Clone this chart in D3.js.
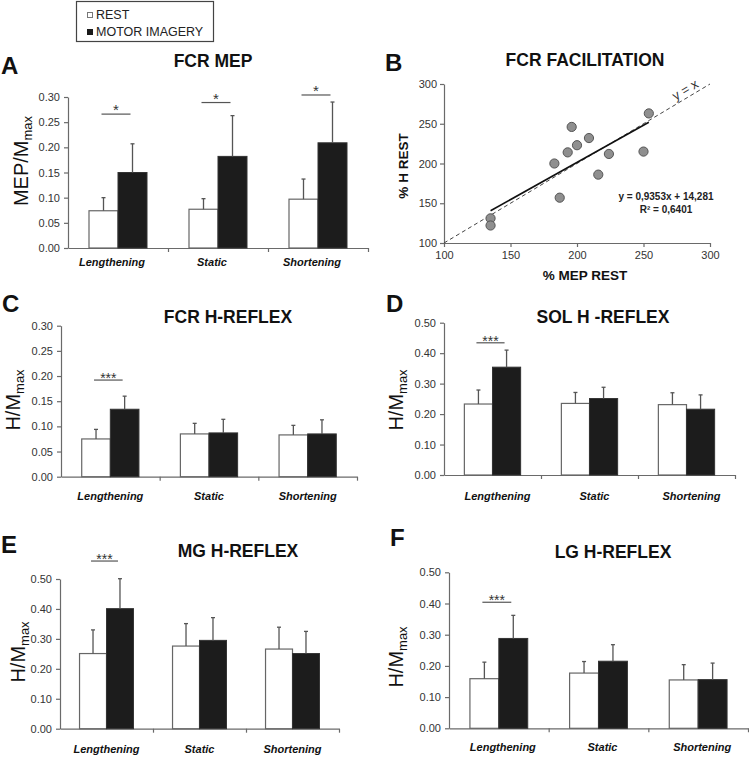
<!DOCTYPE html>
<html>
<head>
<meta charset="utf-8">
<script src="https://cdn.jsdelivr.net/npm/d3@7"></script>
<style>
  body { margin: 0; background: #fff; }
  svg { font-family: "Liberation Sans", Arial, sans-serif; }
</style>
</head>
<body>
<div id="chart"></div>
<script>
// ---- data ----
var categories = ["Lengthening", "Static", "Shortening"];
var seriesNames = ["REST", "MOTOR IMAGERY"];

var ratioTicks30 = [0, 0.05, 0.10, 0.15, 0.20, 0.25, 0.30];
var ratioTicks50 = [0, 0.10, 0.20, 0.30, 0.40, 0.50];
var pctTicks = [100, 150, 200, 250, 300];

// A - FCR MEP
var fcrMepRest = [0.074, 0.077, 0.097];
var fcrMepRestSd = [0.026, 0.021, 0.040];
var fcrMepMi = [0.150, 0.182, 0.209];
var fcrMepMiSd = [0.057, 0.081, 0.081];
var fcrMepSigAt = [0.266, 0.289, 0.304];

// C - FCR H-reflex
var fcrHRest = [0.075, 0.085, 0.083];
var fcrHRestSd = [0.019, 0.021, 0.019];
var fcrHMi = [0.134, 0.087, 0.085];
var fcrHMiSd = [0.026, 0.027, 0.028];
var fcrHSigAt = [0.192, null, null];

// D - SOL H-reflex
var solHRest = [0.233, 0.235, 0.231];
var solHRestSd = [0.046, 0.036, 0.039];
var solHMi = [0.354, 0.251, 0.216];
var solHMiSd = [0.056, 0.037, 0.047];
var solHSigAt = [0.434, null, null];

// E - MG H-reflex
var mgHRest = [0.251, 0.276, 0.266];
var mgHRestSd = [0.079, 0.075, 0.073];
var mgHMi = [0.401, 0.295, 0.251];
var mgHMiSd = [0.100, 0.076, 0.074];
var mgHSigAt = [0.560, null, null];

// F - LG H-reflex
var lgHRest = [0.159, 0.177, 0.155];
var lgHRestSd = [0.053, 0.037, 0.049];
var lgHMi = [0.288, 0.215, 0.156];
var lgHMiSd = [0.074, 0.053, 0.053];
var lgHSigAt = [0.404, null, null];

// B - FCR facilitation scatter
var mepRestPct = [135, 135, 183, 187, 193, 196, 200, 209, 216, 224, 250, 254];
var hRestPct = [131, 122, 200, 157, 214, 246, 223, 232, 186, 212, 215, 263];
var fitSlope = 0.9353;
var fitIntercept = 14.281;

// ---- drawing ----
var width = 749, height = 759;
var axisColor = "#6a6a6a";
var tickTextColor = "#333";

var svg = d3.select("#chart").append("svg")
    .attr("width", width)
    .attr("height", height);

// legend
var legend = svg.append("g");
legend.append("rect")
    .attr("x", 76.5).attr("y", 1.5)
    .attr("width", 137).attr("height", 40)
    .attr("fill", "none").attr("stroke", "#444").attr("stroke-width", 1.2);
seriesNames.forEach(function (name, i) {
    legend.append("rect")
        .attr("x", 87.5).attr("y", 12.5 + i * 17)
        .attr("width", 5).attr("height", 5)
        .attr("fill", i == 0 ? "#fff" : "#1a1a1a")
        .attr("stroke", i == 0 ? "#777" : "#1a1a1a");
    legend.append("text")
        .attr("x", 96).attr("y", 19 + i * 17)
        .attr("font-size", 12.5).attr("fill", "#222")
        .text(name);
});

function panelLetter(letter, x, y) {
    svg.append("text")
        .attr("x", x).attr("y", y)
        .attr("font-size", 24).attr("font-weight", "bold")
        .attr("fill", "#111")
        .text(letter);
}

function panelTitle(title, x, y) {
    svg.append("text")
        .attr("x", x).attr("y", y)
        .attr("text-anchor", "middle")
        .attr("font-size", 17.5).attr("font-weight", "bold")
        .attr("fill", "#111")
        .text(title);
}

function ratioLabel(main, x, y) {
    var t = svg.append("text")
        .attr("transform", "translate(" + x + "," + y + ") rotate(-90)")
        .attr("text-anchor", "middle")
        .attr("font-size", 20).attr("fill", "#111");
    t.append("tspan").text(main);
    t.append("tspan").attr("font-size", 13).attr("dy", 4).text("max");
}

function styleAxis(g) {
    g.select(".domain").attr("stroke", axisColor).attr("stroke-width", 1.2);
    g.selectAll(".tick line").attr("stroke", axisColor).attr("stroke-width", 1.2);
    g.selectAll(".tick text").attr("fill", tickTextColor).attr("font-size", 11)
        .attr("font-family", "Liberation Sans, Arial, sans-serif");
}

function barPanel(o) {
    var x = d3.scaleBand().domain(categories).range([o.left, o.right]);
    var y = d3.scaleLinear().domain([0, d3.max(o.ticks)]).range([o.bottom, o.top]);
    var bw = x.bandwidth() * 0.29;

    // y axis
    var ya = svg.append("g")
        .attr("transform", "translate(" + o.left + ",0)")
        .call(d3.axisLeft(y).tickValues(o.ticks).tickFormat(d3.format(".2f"))
            .tickSize(4).tickSizeOuter(0).tickPadding(4));
    styleAxis(ya);

    // x axis with ticks at category boundaries
    var xi = d3.scaleLinear().domain([0, categories.length]).range([o.left, o.right]);
    var xa = svg.append("g")
        .attr("transform", "translate(0," + o.bottom + ")")
        .call(d3.axisBottom(xi).tickValues([1, 2, 3]).tickFormat("")
            .tickSize(4).tickSizeOuter(0));
    styleAxis(xa);

    var rows = categories.map(function (c, i) {
        return {cat: c, rest: o.rest[i], restSd: o.restSd[i], mi: o.mi[i], miSd: o.miSd[i], sig: o.sig[i]};
    });

    var groups = svg.append("g").selectAll("g")
        .data(rows).enter().append("g");

    function cx(d) { return x(d.cat) + x.bandwidth() / 2; }

    // bars
    groups.append("rect")
        .attr("x", function (d) { return cx(d) - bw; })
        .attr("y", function (d) { return y(d.rest); })
        .attr("width", bw)
        .attr("height", function (d) { return o.bottom - y(d.rest); })
        .attr("fill", "#fff").attr("stroke", "#666").attr("stroke-width", 1.2);
    groups.append("rect")
        .attr("x", function (d) { return cx(d); })
        .attr("y", function (d) { return y(d.mi); })
        .attr("width", bw)
        .attr("height", function (d) { return o.bottom - y(d.mi); })
        .attr("fill", "#1c1c1c").attr("stroke", "#333").attr("stroke-width", 1);

    // error bars (upper only)
    [["rest", "restSd", -0.5], ["mi", "miSd", 0.5]].forEach(function (s) {
        var ex = function (d) { return cx(d) + s[2] * bw; };
        groups.append("line")
            .attr("x1", ex).attr("x2", ex)
            .attr("y1", function (d) { return y(d[s[0]]); })
            .attr("y2", function (d) { return y(d[s[0]] + d[s[1]]); })
            .attr("stroke", "#555").attr("stroke-width", 1.3);
        groups.append("line")
            .attr("x1", function (d) { return ex(d) - 2; })
            .attr("x2", function (d) { return ex(d) + 2; })
            .attr("y1", function (d) { return y(d[s[0]] + d[s[1]]); })
            .attr("y2", function (d) { return y(d[s[0]] + d[s[1]]); })
            .attr("stroke", "#555").attr("stroke-width", 1.3);
    });

    // significance marks
    var sigRows = rows.filter(function (d) { return d.sig != null; });
    var sg = svg.append("g").selectAll("g").data(sigRows).enter().append("g");
    sg.append("line")
        .attr("x1", function (d) { return cx(d) - bw / 2 - 2; })
        .attr("x2", function (d) { return cx(d) + bw / 2 - 2; })
        .attr("y1", function (d) { return y(d.sig); })
        .attr("y2", function (d) { return y(d.sig); })
        .attr("stroke", "#555").attr("stroke-width", 1.2);
    sg.append("text")
        .attr("x", function (d) { return cx(d) - 2; })
        .attr("y", function (d) { return y(d.sig) + (o.sigLabel == "*" ? 1 : 3); })
        .attr("text-anchor", "middle")
        .attr("font-size", o.sigLabel == "*" ? 15 : 14)
        .attr("fill", "#333")
        .text(o.sigLabel);

    // category labels
    svg.append("g").selectAll("text").data(categories).enter().append("text")
        .attr("x", function (c) { return x(c) + x.bandwidth() / 2 + o.catDx; })
        .attr("y", o.bottom + o.catOff)
        .attr("text-anchor", "middle")
        .attr("font-size", 11).attr("font-weight", "bold").attr("font-style", "italic")
        .attr("fill", "#111")
        .text(function (c) { return c; });
}

// A
panelLetter("A", 1, 74);
panelTitle("FCR MEP", 213, 67);
ratioLabel("MEP/M", 28, 161);
barPanel({left: 68, right: 368, top: 97, bottom: 248, ticks: ratioTicks30,
    rest: fcrMepRest, restSd: fcrMepRestSd, mi: fcrMepMi, miSd: fcrMepMiSd,
    sig: fcrMepSigAt, sigLabel: "*", catDx: -6, catOff: 18});

// C
panelLetter("C", 2, 312);
panelTitle("FCR H-REFLEX", 228, 323);
ratioLabel("H/M", 20, 400);
barPanel({left: 61, right: 357, top: 325.7, bottom: 476.7, ticks: ratioTicks30,
    rest: fcrHRest, restSd: fcrHRestSd, mi: fcrHMi, miSd: fcrHMiSd,
    sig: fcrHSigAt, sigLabel: "***", catDx: 0, catOff: 23});

// D
panelLetter("D", 386, 312);
panelTitle("SOL H -REFLEX", 603, 323);
ratioLabel("H/M", 403, 400);
barPanel({left: 444, right: 735, top: 322.7, bottom: 475, ticks: ratioTicks50,
    rest: solHRest, restSd: solHRestSd, mi: solHMi, miSd: solHMiSd,
    sig: solHSigAt, sigLabel: "***", catDx: 5, catOff: 25});

// E
panelLetter("E", 1, 553);
panelTitle("MG H-REFLEX", 238, 557);
ratioLabel("H/M", 25, 652);
barPanel({left: 60, right: 339, top: 579, bottom: 728.7, ticks: ratioTicks50,
    rest: mgHRest, restSd: mgHRestSd, mi: mgHMi, miSd: mgHMiSd,
    sig: mgHSigAt, sigLabel: "***", catDx: 0, catOff: 24});

// F
panelLetter("F", 390, 546);
panelTitle("LG H-REFLEX", 613, 558);
ratioLabel("H/M", 403, 657);
barPanel({left: 449, right: 748, top: 572.3, bottom: 728.3, ticks: ratioTicks50,
    rest: lgHRest, restSd: lgHRestSd, mi: lgHMi, miSd: lgHMiSd,
    sig: lgHSigAt, sigLabel: "***", catDx: 4, catOff: 23});

// B - scatter
panelLetter("B", 385, 71);
panelTitle("FCR FACILITATION", 585, 66);

var bx = d3.scaleLinear().domain([100, 300]).range([444, 710]);
var by = d3.scaleLinear().domain([100, 300]).range([243, 84]);

var bya = svg.append("g").attr("transform", "translate(444,0)")
    .call(d3.axisLeft(by).tickValues(pctTicks).tickSize(4).tickSizeOuter(0).tickPadding(3));
styleAxis(bya);
var bxa = svg.append("g").attr("transform", "translate(0,243)")
    .call(d3.axisBottom(bx).tickValues(pctTicks).tickSize(4).tickSizeOuter(0).tickPadding(4));
styleAxis(bxa);

// identity line
svg.append("line")
    .attr("x1", bx(100)).attr("y1", by(100))
    .attr("x2", bx(300)).attr("y2", by(300))
    .attr("stroke", "#444").attr("stroke-width", 1)
    .attr("stroke-dasharray", "4,3");
var ang = Math.atan2(by(100) - by(300), bx(300) - bx(100)) * 180 / Math.PI;
svg.append("text")
    .attr("transform", "translate(" + bx(283) + "," + (by(283) - 4) + ") rotate(" + (-ang) + ")")
    .attr("text-anchor", "middle")
    .attr("font-size", 13).attr("fill", "#333")
    .text("y = x");

// regression line
var fitX = d3.extent(mepRestPct);
svg.append("line")
    .attr("x1", bx(fitX[0])).attr("y1", by(fitSlope * fitX[0] + fitIntercept))
    .attr("x2", bx(fitX[1])).attr("y2", by(fitSlope * fitX[1] + fitIntercept))
    .attr("stroke", "#111").attr("stroke-width", 1.6);

svg.append("g").selectAll("circle")
    .data(mepRestPct.map(function (v, i) { return [v, hRestPct[i]]; }))
    .enter().append("circle")
    .attr("cx", function (d) { return bx(d[0]); })
    .attr("cy", function (d) { return by(d[1]); })
    .attr("r", 4.6)
    .attr("fill", "#8f8f8f").attr("stroke", "#555").attr("stroke-width", 1);

svg.append("text").attr("x", 666).attr("y", 200)
    .attr("text-anchor", "middle").attr("font-size", 10).attr("font-weight", "bold").attr("fill", "#222")
    .text("y = 0,9353x + 14,281");
svg.append("text").attr("x", 666).attr("y", 213)
    .attr("text-anchor", "middle").attr("font-size", 10).attr("font-weight", "bold").attr("fill", "#222")
    .text("R² = 0,6401");

svg.append("text").attr("x", 585).attr("y", 280)
    .attr("text-anchor", "middle").attr("font-size", 13.5).attr("font-weight", "bold").attr("fill", "#111")
    .text("% MEP REST");
svg.append("text")
    .attr("transform", "translate(408,166) rotate(-90)")
    .attr("text-anchor", "middle").attr("font-size", 13.5).attr("font-weight", "bold").attr("fill", "#111")
    .text("% H REST");
</script>
</body>
</html>
